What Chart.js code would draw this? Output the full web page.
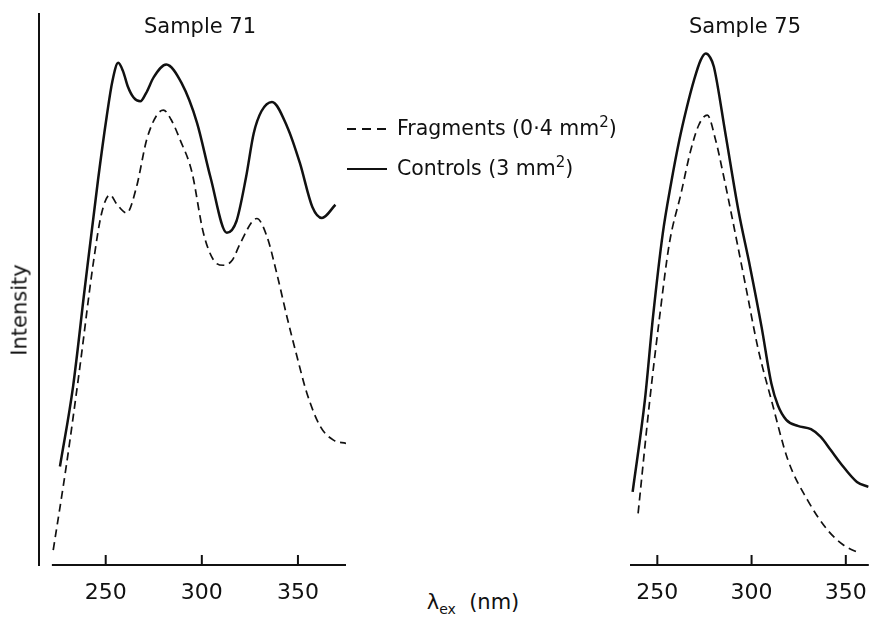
<!DOCTYPE html>
<html>
<head>
<meta charset="utf-8">
<script src="https://cdn.jsdelivr.net/npm/chart.js@4.4.1/dist/chart.umd.min.js"></script>
<style>
  body { margin: 0; background: #fff; }
  #wrap { position: relative; width: 874px; height: 622px; font-family: "DejaVu Sans", sans-serif; color: #111; }
  canvas { position: absolute; top: 0; }
  .txt { position: absolute; font-size: 21px; white-space: nowrap; line-height: 1; }
  .leg { position: absolute; left: 347px; font-size: 20.5px; white-space: nowrap; line-height: 1; }
  .leg span.sw { display: inline-block; width: 40px; vertical-align: middle; margin-right: 10px; }
  .dash { height: 1.6px; background: repeating-linear-gradient(90deg, #111 0 9px, transparent 9px 15px); }
  .solid { height: 2px; background: #111; }
  sup { font-size: 15px; vertical-align: 8px; }
  sub { font-size: 14px; vertical-align: -5px; }
</style>
</head>
<body>
<div id="wrap">
  <canvas id="chart71" width="350" height="622" style="left:0"></canvas>
  <canvas id="chart75" width="274" height="622" style="left:600px"></canvas>

  <div class="txt" style="left:200px; top:26px; transform:translate(-50%,-50%)">Sample 71</div>
  <div class="txt" style="left:745px; top:26px; transform:translate(-50%,-50%)">Sample 75</div>
  <div class="txt" style="left:20px; top:310px; transform:translate(-50%,-50%) rotate(-90deg)">Intensity</div>
  <div class="txt" style="left:473px; top:604px; transform:translate(-50%,-50%)">λ<sub>ex</sub>&nbsp;&nbsp;(nm)</div>

  <div class="leg" style="top:115px"><span class="sw dash"></span>Fragments (0·4 mm<sup>2</sup>)</div>
  <div class="leg" style="top:155px"><span class="sw solid"></span>Controls (3 mm<sup>2</sup>)</div>
</div>

<script>
// tick labels shared by both panels
const xTicks = [250, 300, 350];

// Sample 71
const wl71Controls = [226.2, 233, 239, 246, 250.5, 253.5, 256.5, 259, 261.5, 264.5, 268, 271, 275, 281.5, 289.5, 297.5, 304.5, 313, 318, 323, 327, 331, 336.5, 344.5, 351, 357.5, 362.5, 369.5];
const int71Controls = [17.9, 32.4, 50, 70, 81.5, 88, 91.3, 89.8, 87, 85, 84.3, 85.8, 88.7, 91, 87.6, 80.4, 70.5, 60.4, 62.5, 70.5, 78.5, 82.5, 84.2, 79.6, 73.1, 65.1, 63.1, 65.5];
const wl71Fragments = [222.7, 229.7, 236.6, 243.5, 247.9, 252.2, 256, 260.9, 266, 271.3, 276.6, 280, 284, 288.7, 294.8, 300.8, 306, 311.3, 316, 320, 328.6, 333.9, 339, 344.3, 349.5, 354.7, 361.6, 368.5, 375];
const int71Fragments = [2.7, 18.5, 36.1, 54.8, 64, 67.3, 65.5, 64, 68.7, 77.3, 81.8, 82.7, 81, 77.3, 71.5, 60.4, 55.5, 54.5, 55.5, 58.5, 63, 59.7, 53, 45.1, 37.9, 31.2, 25.2, 22.7, 22.1];

// Sample 75
const wl75Controls = [236.9, 243.4, 247.7, 252.9, 257.3, 261.7, 265.5, 269.5, 273, 275.7, 278, 280, 286.1, 293, 299.2, 305.3, 310.5, 314, 318.4, 324.5, 331.5, 336.7, 342, 347.2, 355.9, 362];
const int75Controls = [13.3, 30, 45.1, 60.3, 69.4, 77.3, 83, 88.2, 91.8, 93, 92.3, 90.6, 78.5, 64.5, 54.2, 43.3, 33, 29, 26.4, 25.3, 24.7, 23.3, 20.9, 18.5, 15.1, 14.2];
const wl75Fragments = [239.8, 246, 251.2, 256.4, 262.6, 267.8, 272, 276.5, 280.9, 285, 289.6, 296.6, 303.6, 310.5, 319.3, 329.7, 340.2, 348.9, 357.6];
const int75Fragments = [9.4, 30, 45.1, 58.5, 67.6, 75.5, 80, 81.8, 77.3, 71, 63.3, 51.2, 39.1, 30, 19.1, 11.8, 6.4, 3.6, 2.1];

function pts(xs, ys) {
    return xs.map((x, i) => ({ x: x, y: ys[i] }));
}

// axes drawn by hand: ticks point up into the plot, x baseline starts at the first data point
const axisLines = {
    id: 'axisLines',
    afterDraw(chart, args, opts) {
        const { ctx, chartArea, scales: { x, y } } = chart;
        const base = y.getPixelForValue(0);
        ctx.save();
        ctx.strokeStyle = '#111';
        ctx.lineWidth = 2;
        ctx.beginPath();
        ctx.moveTo(x.getPixelForValue(opts.from), base);
        ctx.lineTo(chartArea.right, base);
        xTicks.forEach(t => {
            const px = x.getPixelForValue(t);
            ctx.moveTo(px, base);
            ctx.lineTo(px, base - 10);
        });
        ctx.stroke();
        if (opts.yAxis) {
            ctx.beginPath();
            ctx.moveTo(chartArea.left, chartArea.top - 2);
            ctx.lineTo(chartArea.left, base + 1);
            ctx.stroke();
        }
        ctx.restore();
    }
};

function makePanel(id, controls, fragments, xMin, xMax, pad, axisFrom, yAxis) {
    return new Chart(document.getElementById(id), {
        type: 'line',
        data: {
            datasets: [{
                label: 'Controls (3 mm²)',
                data: controls,
                borderColor: '#111',
                borderWidth: 2.5,
                pointRadius: 0,
                cubicInterpolationMode: 'monotone',
                fill: false
            }, {
                label: 'Fragments (0·4 mm²)',
                data: fragments,
                borderColor: '#111',
                borderWidth: 1.7,
                borderDash: [8, 5],
                pointRadius: 0,
                cubicInterpolationMode: 'monotone',
                fill: false
            }]
        },
        options: {
            responsive: false,
            devicePixelRatio: 1,
            animation: false,
            layout: { padding: pad },
            plugins: {
                legend: { display: false },
                tooltip: { enabled: false },
                axisLines: { from: axisFrom, yAxis: yAxis }
            },
            scales: {
                x: {
                    type: 'linear',
                    min: xMin,
                    max: xMax,
                    grid: { display: false },
                    border: { display: false },
                    afterBuildTicks: s => { s.ticks = xTicks.map(v => ({ value: v })); },
                    afterFit: s => { s.height = 57; },
                    ticks: {
                        color: '#111',
                        padding: 7,
                        font: { family: 'DejaVu Sans', size: 22 }
                    }
                },
                y: {
                    display: false,
                    min: 0,
                    max: 100
                }
            }
        },
        plugins: [axisLines]
    });
}

makePanel('chart71', pts(wl71Controls, int71Controls), pts(wl71Fragments, int71Fragments),
    215.3, 375, { left: 39, right: 4, top: 15, bottom: 0 }, 222, true);
makePanel('chart75', pts(wl75Controls, int75Controls), pts(wl75Fragments, int75Fragments),
    235.5, 362.2, { left: 30, right: 2, top: 15, bottom: 0 }, 235.5, false);
</script>
</body>
</html>
